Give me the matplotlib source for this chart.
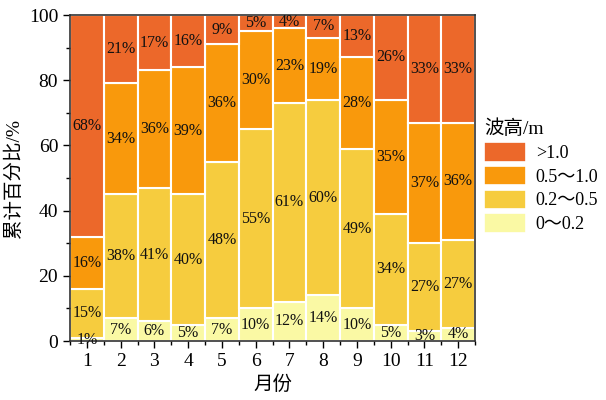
import matplotlib
matplotlib.use("Agg")
import matplotlib.pyplot as plt
from matplotlib.ticker import MultipleLocator, FixedLocator
from matplotlib.patches import Patch
import numpy as np

plt.rcParams['font.family'] = ['Liberation Serif', 'Noto Sans CJK SC']

months = ['1', '2', '3', '4', '5', '6', '7', '8', '9', '10', '11', '12']
s_0_02 = [1, 7, 6, 5, 7, 10, 12, 14, 10, 5, 3, 4]
s_02_05 = [15, 38, 41, 40, 48, 55, 61, 60, 49, 34, 27, 27]
s_05_10 = [16, 34, 36, 39, 36, 30, 23, 19, 28, 35, 37, 36]
s_gt_10 = [68, 21, 17, 16, 9, 5, 4, 7, 13, 26, 33, 33]
series_labels = ['0～0.2', '0.2～0.5', '0.5～1.0', '>1.0']
colors = ['#FAF9A4', '#F6CC3E', '#F9990C', '#EC682A']

fig = plt.figure(figsize=(6.06, 4.0), dpi=100)
ax = fig.add_axes([0.1155, 0.1475, 0.6685, 0.815])

x = np.arange(1, 13)
series = [s_0_02, s_02_05, s_05_10, s_gt_10]
bottom = np.zeros(12)
for vals, col in zip(series, colors):
    vals = np.array(vals, dtype=float)
    ax.bar(x, vals, width=1.0, bottom=bottom, color=col, edgecolor='white', linewidth=1.5)
    for xi, b, v in zip(x, bottom, vals):
        yc = b + v / 2
        if v < 3:
            yc = b + 0.2
        ax.text(xi, yc, f'{int(v)}%', ha='center', va='center', fontsize=11.5, color='#111111')
    bottom += vals

ax.set_xlim(0.5, 12.5)
ax.set_ylim(0, 100)
ax.set_xticks(x)
ax.set_xticklabels(months)
ax.xaxis.set_minor_locator(FixedLocator(np.arange(0.5, 13, 1.0)))
ax.yaxis.set_major_locator(MultipleLocator(20))
ax.yaxis.set_minor_locator(MultipleLocator(10))
ax.tick_params(axis='both', which='major', labelsize=14, direction='out', length=5, width=1)
ax.tick_params(axis='both', which='minor', direction='out', length=3, width=1)
for sp in ax.spines.values():
    sp.set_linewidth(1.2)
    sp.set_color('#333333')

ax.set_xlabel('月份', fontsize=14)
ax.set_ylabel('累计百分比/%', fontsize=14)

handles = [Patch(facecolor=c, edgecolor='white', linewidth=1.2) for c in colors[::-1]]
leg = fig.legend(handles, series_labels[::-1], title='波高/m', loc='upper left',
                 bbox_to_anchor=(477 / 606, 1 - 112 / 400), frameon=False, fontsize=13,
                 title_fontsize=14, handlelength=2.3, handleheight=1.3,
                 handletextpad=0.55, labelspacing=0.22, borderaxespad=0.0,
                 borderpad=0.4)
leg._legend_box.align = 'left'

fig.savefig('out.png', dpi=100)
